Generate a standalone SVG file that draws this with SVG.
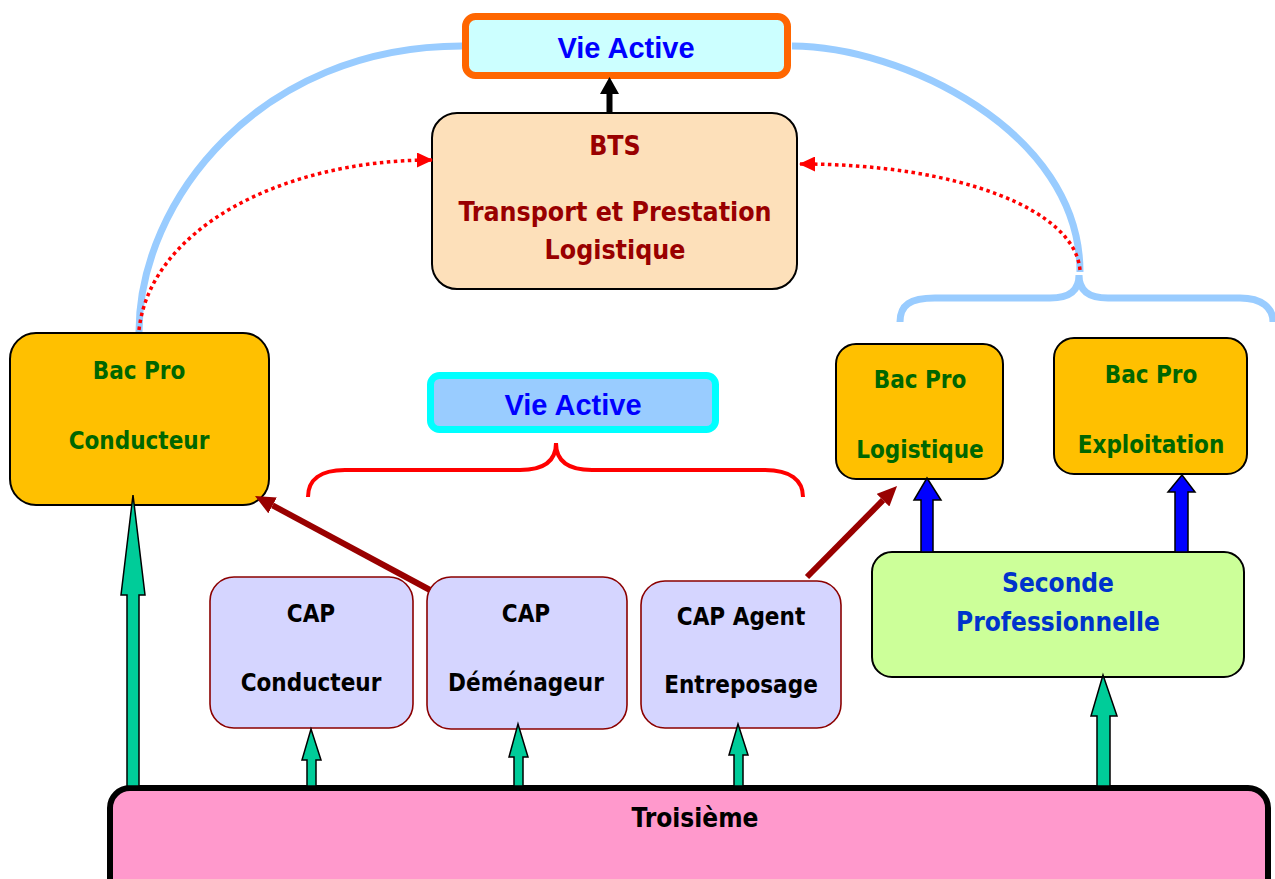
<svg xmlns="http://www.w3.org/2000/svg" width="1275" height="879" viewBox="0 0 1275 879">
<style>
.tx{font-family:"DejaVu Sans",Verdana,sans-serif;font-weight:bold;font-stretch:condensed;text-anchor:middle}
.bac{font-size:24px;fill:#006600}
.cap{font-size:24px;fill:#000}
.bts{font-size:26.5px;fill:#990000}
.sec{font-size:26px;fill:#0033CC}
.troi{font-size:26px;fill:#000}
.va{font-family:"Liberation Sans",Arial,sans-serif;font-weight:bold;font-size:29px;fill:#0000FF;text-anchor:middle}
.box{stroke:#000;stroke-width:2}
.bacbox{fill:#FFC000}
.capbox{fill:#D5D5FF;stroke:#8B0000;stroke-width:1.6}
.arc{fill:none;stroke:#99CCFF;stroke-width:7}
.dot{fill:none;stroke:#FF0000;stroke-width:3.5;stroke-dasharray:3.5 3.5}
.red{fill:none;stroke:#990000;stroke-width:6}
.green{fill:#00CC99;stroke:#000;stroke-width:1.5}
.blue{fill:#0000FF;stroke:#000;stroke-width:1.5}
</style>
<defs>
<marker id="redtip" markerUnits="userSpaceOnUse" viewBox="0 0 16 15" refX="15" refY="7.5" markerWidth="16" markerHeight="15" orient="auto">
<path d="M0,0 L16,7.5 L0,15 z" fill="#FF0000"/>
</marker>
<marker id="darktip" markerUnits="userSpaceOnUse" viewBox="0 0 20 18" refX="0" refY="9" markerWidth="20" markerHeight="18" orient="auto">
<path d="M0,0 L20,9 L0,18 z" fill="#990000"/>
</marker>
</defs>
<rect width="1275" height="879" fill="#fff"/>
<g id="decor">
<path class="arc" d="M139,332 C139,200 260,46 462,46"/>
<path class="arc" d="M792,46 C900,46 1080,130 1080,272"/>
<path class="arc" d="M900,322 C900,305 910,298 935,298 L1050,298 C1070,298 1079,290 1079,275 C1079,290 1088,298 1108,298 L1240,298 C1262,298 1273,308 1273,322"/>
<path fill="none" stroke="#FF0000" stroke-width="4" d="M308,497 C308,480 320,470 345,470 L520,470 C545,470 556,460 556,443 C556,460 567,470 592,470 L765,470 C790,470 803,480 803,497"/>
</g>
<g id="vie-active-top">
<rect x="465.5" y="16.5" width="322" height="59" rx="10" fill="#CCFFFF" stroke="#FF6600" stroke-width="7"/>
<text class="va" x="626" y="58">Vie Active</text>
</g>
<g id="bts">
<rect class="box" x="432" y="113" width="365" height="176" rx="25" fill="#FDE0BA"/>
<text class="tx bts" x="615" y="155">BTS</text>
<text class="tx bts" x="615" y="221">Transport et Prestation</text>
<text class="tx bts" x="615" y="259">Logistique</text>
</g>
<g id="bac-pro-conducteur">
<rect class="box bacbox" x="10" y="333" width="259" height="172" rx="26"/>
<text class="tx bac" x="139" y="379">Bac Pro</text>
<text class="tx bac" x="139" y="449">Conducteur</text>
</g>
<g id="vie-active-mid">
<rect x="430.5" y="375.5" width="285" height="54" rx="9" fill="#99CCFF" stroke="#00FFFF" stroke-width="7"/>
<text class="va" x="573" y="415">Vie Active</text>
</g>
<g id="bac-pro-logistique">
<rect class="box bacbox" x="836" y="344" width="167" height="135" rx="20"/>
<text class="tx bac" x="920" y="388">Bac Pro</text>
<text class="tx bac" x="920" y="458">Logistique</text>
</g>
<g id="bac-pro-exploitation">
<rect class="box bacbox" x="1054" y="338" width="193" height="136" rx="20"/>
<text class="tx bac" x="1151" y="383">Bac Pro</text>
<text class="tx bac" x="1151" y="453">Exploitation</text>
</g>
<g id="seconde-pro">
<rect class="box" x="872" y="552" width="372" height="125" rx="20" fill="#CCFF99"/>
<text class="tx sec" x="1058" y="592">Seconde</text>
<text class="tx sec" x="1058" y="631">Professionnelle</text>
</g>
<g id="cap-conducteur">
<rect class="capbox" x="210" y="577" width="203" height="151" rx="24"/>
<text class="tx cap" x="311" y="622">CAP</text>
<text class="tx cap" x="311" y="691">Conducteur</text>
</g>
<g id="cap-demenageur">
<rect class="capbox" x="427" y="577" width="200" height="152" rx="24"/>
<text class="tx cap" x="526" y="622">CAP</text>
<text class="tx cap" x="526" y="691">Déménageur</text>
</g>
<g id="cap-agent">
<rect class="capbox" x="641" y="581" width="200" height="147" rx="24"/>
<text class="tx cap" x="741" y="625">CAP  Agent</text>
<text class="tx cap" x="741" y="693">Entreposage</text>
</g>
<g id="troisieme">
<rect x="110" y="788" width="1158" height="110" rx="20" fill="#FF99CC" stroke="#000" stroke-width="6"/>
<text class="tx troi" x="695" y="827">Troisième</text>
</g>
<g id="connectors">
<path class="dot" d="M139,330 C150,230 280,160 432,160" marker-end="url(#redtip)"/>
<path class="dot" d="M1080,270 C1075,210 960,164 800,164" marker-end="url(#redtip)"/>
<path class="red" d="M430,590 L272.6,505.4" marker-end="url(#darktip)"/>
<path class="red" d="M807,577 L883,500.2" marker-end="url(#darktip)"/>
<polygon fill="#000" points="609.5,77 619,94 612.5,94 612.5,112 606.5,112 606.5,94 600,94"/>
<polygon class="green" points="133,495 145,595 139,595 139,786 127,786 127,595 121,595"/>
<polygon class="green" points="311,729 321,760 316,760 316,786 307,786 307,760 302,760"/>
<polygon class="green" points="518,724 528,757 523,757 523,786 514,786 514,757 509,757"/>
<polygon class="green" points="738,724 748,755 743,755 743,786 734,786 734,755 729,755"/>
<polygon class="green" points="1103,675 1117,716 1110,716 1110,786 1097,786 1097,716 1091,716"/>
<polygon class="blue" points="927,478 941,500 933,500 933,552 921,552 921,500 914,500"/>
<polygon class="blue" points="1182,475 1195,492 1188,492 1188,552 1175,552 1175,492 1168,492"/>
</g>
</svg>
